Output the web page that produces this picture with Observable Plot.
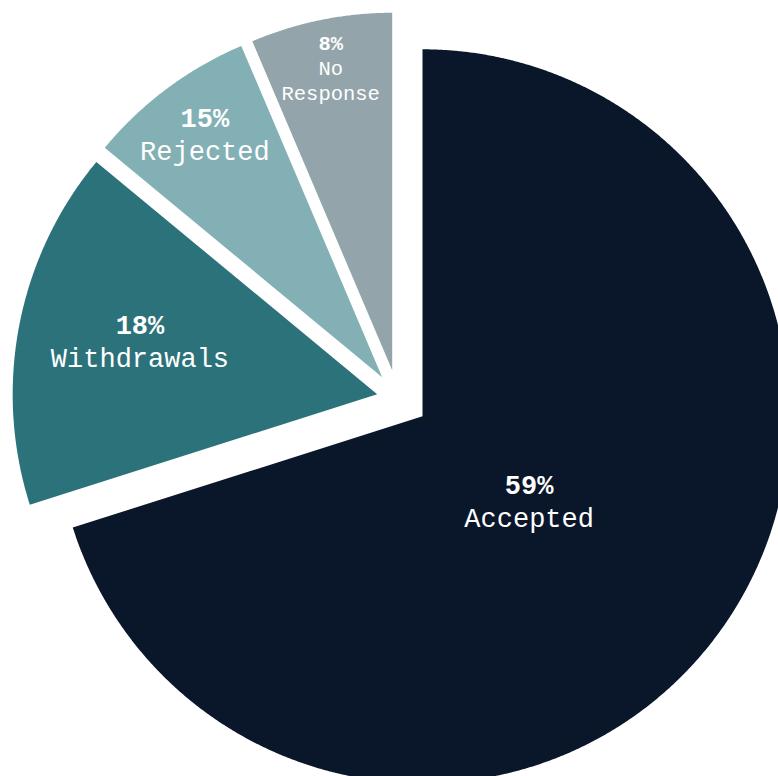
<!DOCTYPE html>
<html>
<head>
<meta charset="utf-8">
<script src="https://cdn.jsdelivr.net/npm/d3@7"></script>
<script src="https://cdn.jsdelivr.net/npm/@observablehq/plot@0.6"></script>
<style>
  html, body { margin: 0; padding: 0; background: #ffffff; }
  #chart svg { display: block; }
</style>
</head>
<body>
<div id="chart"></div>
<script>
// ---- data ----
const categories = ["Accepted", "Withdrawals", "Rejected", "No Response"];
const shares = [70.1, 15.9, 7.6, 6.4];          // angular share of each slice as drawn
const pctLabels = ["59%", "18%", "15%", "8%"];   // printed percentages
const nameLines = [["Accepted"], ["Withdrawals"], ["Rejected"], ["No", "Response"]];
const colors = ["#0a1629", "#2c727b", "#82b0b4", "#93a5ab"];

// ---- layout (pixels / degrees) ----
const W = 778, H = 776;
const cx = 397.4, cy = 397.8;                 // pie centre in the frame
const radii = [367, 364.5, 360, 357.5];
const explode = [30.5, 21.1, 26.3, 28.6];
const labelDist = [137, 243, 300, 308];
const labelTurn = [2.7, 1.5, 0.5, 0];
const fontSizes = [27, 27, 27, 20.5];
const lineFactor = 1.22;

const arcs = d3.pie().sort(null).value(d => d)(shares);
const dir = a => [Math.sin(a), Math.cos(a)]; // clockwise from 12 o'clock, y up

const polys = [];
const labels = [];
arcs.forEach((a, i) => {
  const mid = (a.startAngle + a.endAngle) / 2;
  const [mx, my] = dir(mid);
  const ox = explode[i] * mx, oy = explode[i] * my;
  const cat = categories[i];
  polys.push({cat, x: ox, y: oy});
  const steps = Math.max(8, Math.ceil((a.endAngle - a.startAngle) / (Math.PI / 720)));
  for (let s = 0; s <= steps; ++s) {
    const t = a.startAngle + (a.endAngle - a.startAngle) * s / steps;
    const [dx, dy] = dir(t);
    polys.push({cat, x: ox + radii[i] * dx, y: oy + radii[i] * dy});
  }
  polys.push({cat, x: ox, y: oy});
  const [lxd, lyd] = dir(mid + labelTurn[i] * Math.PI / 180);
  const lx = ox + labelDist[i] * lxd, ly = oy + labelDist[i] * lyd;
  const lines = [pctLabels[i], ...nameLines[i]];
  const lh = fontSizes[i] * lineFactor;
  lines.forEach((txt, k) => {
    labels.push({
      text: txt,
      bold: k === 0,
      x: lx,
      y: ly + ((lines.length - 1) / 2 - k) * lh,
      size: fontSizes[i]
    });
  });
});

const font = "'Liberation Mono', 'Courier New', monospace";

const chart = Plot.plot({
  width: W,
  height: H,
  margin: 0,
  x: {domain: [-cx, W - cx], axis: null},
  y: {domain: [-(H - cy), cy], axis: null},
  color: {domain: categories, range: colors},
  marks: [
    Plot.line(polys, {x: "x", y: "y", z: "cat", fill: "cat", stroke: null, curve: "linear", clip: true}),
    Plot.text(labels.filter(d => d.bold), {
      x: "x", y: "y", text: "text", fill: "#ffffff",
      fontSize: d => d.size, fontWeight: "bold", fontFamily: font,
      textAnchor: "middle", lineAnchor: "middle"
    }),
    Plot.text(labels.filter(d => !d.bold), {
      x: "x", y: "y", text: "text", fill: "#ffffff",
      fontSize: d => d.size, fontWeight: "normal", fontFamily: font,
      textAnchor: "middle", lineAnchor: "middle"
    })
  ]
});
document.getElementById("chart").appendChild(chart);
</script>
</body>
</html>
